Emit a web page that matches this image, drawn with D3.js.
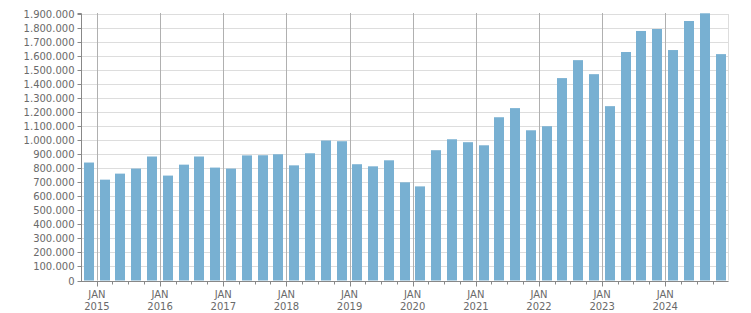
<!DOCTYPE html>
<html>
<head>
<meta charset="utf-8">
<script src="https://cdn.jsdelivr.net/npm/d3@7"></script>
<style>
  html, body { margin: 0; padding: 0; background: #fff; }
  svg { display: block; }
  text { font-family: "DejaVu Sans", Verdana, sans-serif; font-size: 10px; fill: #6a6a6a; }
</style>
</head>
<body>
<svg id="chart" width="751" height="313"></svg>
<script>
// Quarter start dates (first bar = Q4 2014, last = Q4 2024)
const quarters = [
  "2014-10","2015-01","2015-04","2015-07","2015-10",
  "2016-01","2016-04","2016-07","2016-10",
  "2017-01","2017-04","2017-07","2017-10",
  "2018-01","2018-04","2018-07","2018-10",
  "2019-01","2019-04","2019-07","2019-10",
  "2020-01","2020-04","2020-07","2020-10",
  "2021-01","2021-04","2021-07","2021-10",
  "2022-01","2022-04","2022-07","2022-10",
  "2023-01","2023-04","2023-07","2023-10",
  "2024-01","2024-04","2024-07","2024-10"
];
const values = [
  841000, 719000, 762000, 798000, 884000,
  748000, 826000, 884000, 805000,
  798000, 892000, 893000, 900000,
  821000, 907000, 998000, 993000,
  829000, 814000, 857000, 700000,
  671000, 929000, 1007000, 986000,
  964000, 1164000, 1229000, 1071000,
  1100000, 1443000, 1571000, 1471000,
  1243000, 1629000, 1779000, 1793000,
  1643000, 1850000, 1905000, 1614000
];
const yTicks = d3.range(0, 1900001, 100000);
const yearLabels = ["2015","2016","2017","2018","2019","2020","2021","2022","2023","2024"];
const monthLabel = "JAN";

(function () {
const svg = d3.select("#chart");
const pLeft = 81, pRight = 728.5, pTop = 14, pBottom = 280.5;

const parse = d3.utcParse("%Y-%m");
const x = d3.scaleUtc()
  .domain([parse("2014-10"), parse("2025-01")])
  .range([pLeft, pRight]);
const y = d3.scaleLinear().domain([0, 1900000]).range([pBottom, pTop]);

const loc = d3.formatLocale({decimal: ",", thousands: ".", grouping: [3], currency: ["", ""]});
const fmt = loc.format(",d");

// horizontal gridlines
svg.append("g").selectAll("line").data(yTicks).join("line")
  .attr("x1", pLeft).attr("x2", pRight)
  .attr("y1", d => Math.round(y(d)) + 0.5).attr("y2", d => Math.round(y(d)) + 0.5)
  .attr("stroke", "#dddddd").attr("stroke-width", 1);

// right border
svg.append("line")
  .attr("x1", Math.round(pRight) - 0.5).attr("x2", Math.round(pRight) - 0.5)
  .attr("y1", pTop).attr("y2", pBottom)
  .attr("stroke", "#dddddd");

// vertical year gridlines
const yearDates = yearLabels.map(yr => d3.utcParse("%Y")(yr));
svg.append("g").selectAll("line").data(yearDates).join("line")
  .attr("x1", d => Math.round(x(d)) + 0.5).attr("x2", d => Math.round(x(d)) + 0.5)
  .attr("y1", 13).attr("y2", pBottom)
  .attr("stroke", "#b0b0b0");

// bars
const barW = 10;
svg.append("g").selectAll("rect").data(quarters).join("rect")
  .attr("x", (q, i) => {
    const s = parse(q);
    const e = d3.utcMonth.offset(s, 3);
    const mid = new Date((s.getTime() + e.getTime()) / 2);
    return Math.round(x(mid) - barW / 2);
  })
  .attr("width", barW)
  .attr("y", (q, i) => y(values[i]))
  .attr("height", (q, i) => pBottom - y(values[i]))
  .attr("fill", "#78b0d2");

// y axis
const yAxis = d3.axisLeft(y).tickValues(yTicks).tickFormat(fmt).tickSize(4).tickPadding(3);
const gy = svg.append("g").attr("transform", `translate(${pLeft + 0.5},0.5)`).call(yAxis);
gy.select(".domain").attr("stroke", "#888").attr("d", `M-4,${Math.round(pTop) - 1}H0V${Math.round(pBottom)}`);
gy.selectAll(".tick line").attr("stroke", "#888");
gy.selectAll(".tick text").attr("fill", "#6a6a6a").style("font-family", "'DejaVu Sans', Verdana, sans-serif").style("font-size", "10px");
gy.selectAll(".tick").attr("transform", d => `translate(0,${Math.round(y(d))})`);

// x axis: quarterly minor ticks, year major ticks
const qTicks = d3.utcMonth.every(3).range(parse("2015-01"), parse("2025-01"));
const xAxis = d3.axisBottom(x).tickValues(qTicks).tickSize(3).tickFormat("");
const gx = svg.append("g").attr("transform", `translate(0,${Math.round(pBottom) + 0.5})`).call(xAxis);
gx.select(".domain").attr("stroke", "#888").attr("d", `M${pLeft},0H${pRight}`);
gx.selectAll(".tick").attr("transform", d => `translate(${Math.round(x(d)) + 0.5},0)`);
gx.selectAll(".tick line").attr("stroke", "#888")
  .attr("y2", d => d.getUTCMonth() === 0 ? 5 : 3);

// year labels
const lab = svg.append("g").selectAll("g").data(yearDates).join("g")
  .attr("transform", d => `translate(${x(d)},0)`);
lab.append("text").attr("y", 297.5).attr("text-anchor", "middle").text(monthLabel);
lab.append("text").attr("y", 310).attr("text-anchor", "middle").text((d, i) => yearLabels[i]);
})();
</script>
</body>
</html>
